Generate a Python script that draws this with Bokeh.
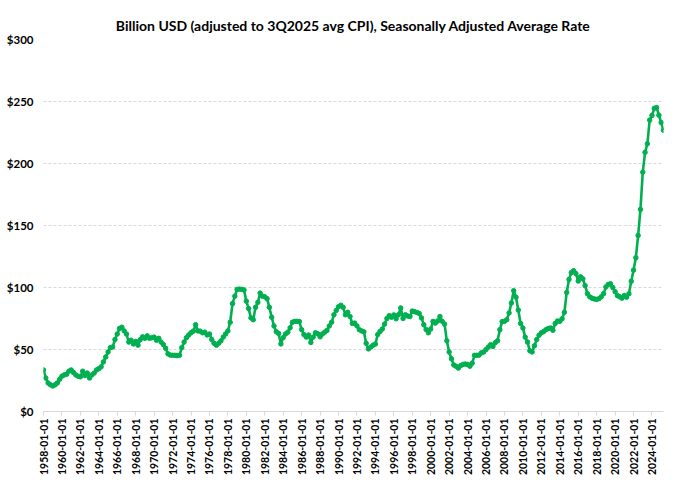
from bokeh.plotting import figure
from bokeh.models import ColumnDataSource, FixedTicker, Range1d
from bokeh.embed import file_html
from bokeh.resources import INLINE

# Quarterly values (billion USD)
vals_1958_1969 = [33.5, 27, 23, 21.5, 20.6, 21.5, 23, 26, 28.5, 29.5, 30, 32.5,
                  33.5, 31.5, 29.5, 28.5, 28, 32.5, 29, 31, 27, 29.5, 31, 33.5,
                  34.5, 36, 40, 44, 48, 51.5, 52, 58, 62.5, 67, 68, 65,
                  62.5, 56, 57.5, 54.5, 56.5, 53.5, 58, 60.2, 59, 61, 59, 59.5]
vals_1970_1979 = [60, 57.5, 59, 56, 54, 51, 46.5, 45.5, 45.3, 45.3, 45, 45.3,
                  51.5, 56, 59.5, 61.7, 63.5, 64.8, 70, 65, 64.8, 63.5, 64, 61.7,
                  62.5, 58, 55, 53.5, 55, 57, 60, 62.5, 65, 72, 87, 93,
                  98.5, 98.7, 98.5, 98]
vals_1980_1989 = [89, 83, 75.5, 74, 84, 88, 95.5, 93, 92.5, 91, 84, 76,
                  69, 64.3, 63, 54.5, 59.6, 62.5, 64, 67.5, 72, 72.7, 72.7, 72.5,
                  66, 62, 60, 61.7, 55.7, 60, 63.5, 62.7, 60.2, 62.5, 64, 65.4,
                  69, 72, 78, 81.5]
vals_1990_1999 = [84.5, 85.7, 84, 78, 80, 76.6, 71, 71.3, 69, 66, 65, 64.3,
                  55, 50.5, 52, 53.5, 54.4, 62, 64.5, 66.5, 70.5, 75, 77.3, 76,
                  77.9, 74.8, 78, 83.5, 75, 78, 77, 76.6, 81, 80.5, 79.9, 79.1,
                  75.5, 70, 66.1, 63.5]
vals_2000_2009 = [66.5, 72.7, 71.3, 73, 76.6, 72.7, 70.5, 57, 48, 42.5, 37.5, 36.5,
                  35, 37, 38, 38.3, 38, 36.5, 39, 45.3, 45.3, 45.5, 47.3, 48,
                  50, 52, 53.9, 52.5, 55.5, 57, 66, 72.5, 72.7, 74, 79.5, 87.5,
                  97.4, 92.2, 81.8, 71]
vals_2010_2019 = [67.4, 60, 56, 49, 48, 53, 58, 61.5, 63.5, 64.5, 66, 66.9,
                  67.4, 65.5, 71, 73, 72.7, 74.8, 80, 96, 106.5, 112, 113.5, 111.2,
                  105.2, 108.6, 107, 101.5, 95, 92.5, 91.4, 90.8, 90.4, 91, 92.5, 95,
                  100.5, 102.5, 103, 100]
vals_2020_2025 = [96.6, 93.5, 92.5, 91.4, 93.5, 92.2, 95, 105, 114, 124, 142, 163,
                  193, 209, 215.9, 235, 238.8, 244.5, 245.1, 239, 233, 226.8]

values = (vals_1958_1969 + vals_1970_1979 + vals_1980_1989 + vals_1990_1999
          + vals_2000_2009 + vals_2010_2019 + vals_2020_2025)

quarter_labels = [f"{y}-{m:02d}-01" for y in range(1958, 2026) for m in (1, 4, 7, 10)][:len(values)]
y_ticks = [0, 50, 100, 150, 200, 250, 300]
title_text = "Billion USD (adjusted to 3Q2025 avg CPI), Seasonally Adjusted Average Rate"

idx = list(range(len(values)))
src = ColumnDataSource(dict(x=idx, y=values, date=quarter_labels))

FONT = "Lato"
GREEN = "#00B050"

p = figure(width=665, height=478, output_backend="svg", toolbar_location=None,
           x_range=Range1d(0, len(values) - 1), y_range=Range1d(0, 300),
           min_border_left=43, min_border_right=2, min_border_top=39, min_border_bottom=55)

p.title.text = title_text
p.title.align = "center"
p.title.text_font = FONT
p.title.text_font_style = "bold"
p.title.text_font_size = "14px"
p.title.text_color = "#000000"
p.title.standoff = 11

p.line("x", "y", source=src, line_color=GREEN, line_width=2.6)
p.scatter("x", "y", source=src, size=4.5, fill_color=GREEN, line_color=GREEN)

# x axis
tick_idx = list(range(0, len(values), 8))
p.xaxis.ticker = FixedTicker(ticks=tick_idx)
p.xaxis.major_label_overrides = {i: quarter_labels[i] for i in tick_idx}
p.xaxis.major_label_orientation = 3.14159265 / 2
p.xaxis.axis_line_color = "#d9d9d9"
p.xaxis.major_tick_line_color = "#d9d9d9"
p.xaxis.major_tick_out = 4
p.xaxis.major_tick_in = 0
p.xaxis.minor_tick_out = 0
p.xaxis.minor_tick_in = 0
p.xaxis.minor_tick_line_color = None
p.xaxis.major_label_text_font = FONT
p.xaxis.major_label_text_font_style = "bold"
p.xaxis.major_label_text_font_size = "10.5px"
p.xaxis.major_label_text_color = "#000000"
p.xaxis.major_label_standoff = 3

# y axis
p.yaxis.ticker = FixedTicker(ticks=y_ticks)
p.yaxis.major_label_overrides = {t: f"${t}" for t in y_ticks}
p.yaxis.axis_line_color = None
p.yaxis.major_tick_line_color = None
p.yaxis.major_tick_out = 0
p.yaxis.major_tick_in = 0
p.yaxis.minor_tick_out = 0
p.yaxis.minor_tick_in = 0
p.yaxis.minor_tick_line_color = None
p.yaxis.major_label_text_font = FONT
p.yaxis.major_label_text_font_style = "bold"
p.yaxis.major_label_text_font_size = "11.5px"
p.yaxis.major_label_text_color = "#000000"
p.yaxis.major_label_standoff = 10

p.xgrid.grid_line_color = None
p.ygrid.grid_line_color = "#d9d9d9"
p.ygrid.grid_line_dash = "3 2"
p.ygrid.grid_line_width = 1

p.outline_line_color = None
p.background_fill_color = "white"
p.border_fill_color = "white"

open("out.html", "w").write(file_html(p, INLINE))
